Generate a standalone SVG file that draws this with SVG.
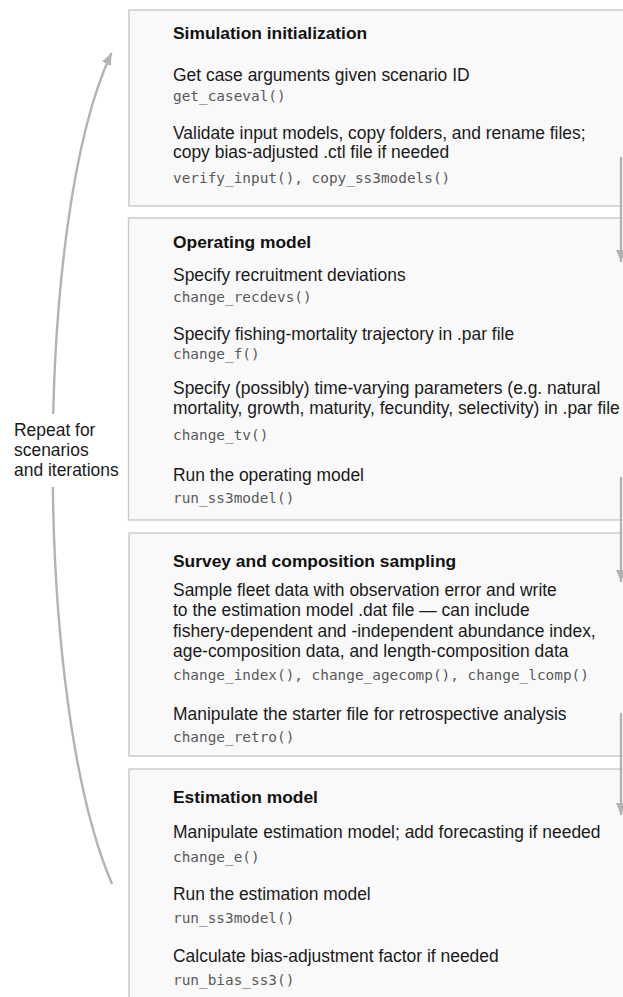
<svg xmlns="http://www.w3.org/2000/svg" width="623" height="997" viewBox="0 0 623 997">
<defs>
<style>
.box{fill:#f9f9f9;stroke:#c9c9c9;stroke-width:1.4}
.t{font-family:"Liberation Sans",Arial,Helvetica,sans-serif;font-size:17.45px;fill:#1a1a1a}
.h{font-family:"Liberation Sans",Arial,Helvetica,sans-serif;font-size:17.4px;font-weight:bold;fill:#111}
.c{font-family:"DejaVu Sans Mono","Liberation Mono",monospace;font-size:14.4px;fill:#595959}
.conn{fill:none;stroke:#b3b3b3;stroke-width:2.4}
</style>
<marker id="ah" viewBox="0 0 12 10" refX="12" refY="5" markerWidth="12" markerHeight="10" markerUnits="userSpaceOnUse" orient="auto">
<path d="M0,0 L12,5 L0,10 z" fill="#b3b3b3"/>
</marker>
</defs>
<rect width="623" height="997" fill="#fff"/>

<g id="node-init">
<rect class="box" x="129" y="10" width="540" height="196"/>
<text class="h" x="173" y="39">Simulation initialization</text>
<text class="t" x="173" y="81">Get case arguments given scenario ID</text>
<text class="c" x="173" y="100.5">get_caseval()</text>
<text class="t" x="173" y="139">Validate input models, copy folders, and rename files;</text>
<text class="t" x="173" y="158">copy bias-adjusted .ctl file if needed</text>
<text class="c" x="173" y="182.5">verify_input(), copy_ss3models()</text>
</g>

<g id="node-om">
<rect class="box" x="128.5" y="218" width="540" height="302"/>
<text class="h" x="173" y="248">Operating model</text>
<text class="t" x="173" y="281">Specify recruitment deviations</text>
<text class="c" x="173" y="301.5">change_recdevs()</text>
<text class="t" x="173" y="340">Specify fishing-mortality trajectory in .par file</text>
<text class="c" x="173" y="358.5">change_f()</text>
<text class="t" x="173" y="394">Specify (possibly) time-varying parameters (e.g. natural</text>
<text class="t" x="173" y="414">mortality, growth, maturity, fecundity, selectivity) in .par file</text>
<text class="c" x="173" y="439.5">change_tv()</text>
<text class="t" x="173" y="481">Run the operating model</text>
<text class="c" x="173" y="502.5">run_ss3model()</text>
</g>

<g id="node-sampling">
<rect class="box" x="129" y="533" width="540" height="223"/>
<text class="h" x="173" y="567">Survey and composition sampling</text>
<text class="t" x="173" y="596">Sample fleet data with observation error and write</text>
<text class="t" x="173" y="616">to the estimation model .dat file — can include</text>
<text class="t" x="173" y="637">fishery-dependent and -independent abundance index,</text>
<text class="t" x="173" y="657">age-composition data, and length-composition data</text>
<text class="c" x="173" y="679.5">change_index(), change_agecomp(), change_lcomp()</text>
<text class="t" x="173" y="720">Manipulate the starter file for retrospective analysis</text>
<text class="c" x="173" y="741.5">change_retro()</text>
</g>

<g id="node-em">
<rect class="box" x="129" y="769" width="540" height="260"/>
<text class="h" x="173" y="803">Estimation model</text>
<text class="t" x="173" y="838">Manipulate estimation model; add forecasting if needed</text>
<text class="c" x="173" y="861.5">change_e()</text>
<text class="t" x="173" y="900">Run the estimation model</text>
<text class="c" x="173" y="922.5">run_ss3model()</text>
<text class="t" x="173" y="962">Calculate bias-adjustment factor if needed</text>
<text class="c" x="173" y="984.5">run_bias_ss3()</text>
</g>

<g id="connectors">
<path class="conn" d="M621,157 L621,262" marker-end="url(#ah)"/>
<path class="conn" d="M621,477 L621,582" marker-end="url(#ah)"/>
<path class="conn" d="M621,713 L621,815" marker-end="url(#ah)"/>
<path class="conn" d="M112,884 C33,700 33,220 111.5,53" marker-end="url(#ah)"/>
<rect x="8" y="414" width="114" height="73" fill="#fff"/>
<text class="t" x="14" y="436">Repeat for</text>
<text class="t" x="14" y="456">scenarios</text>
<text class="t" x="14" y="476">and iterations</text>
</g>
</svg>
